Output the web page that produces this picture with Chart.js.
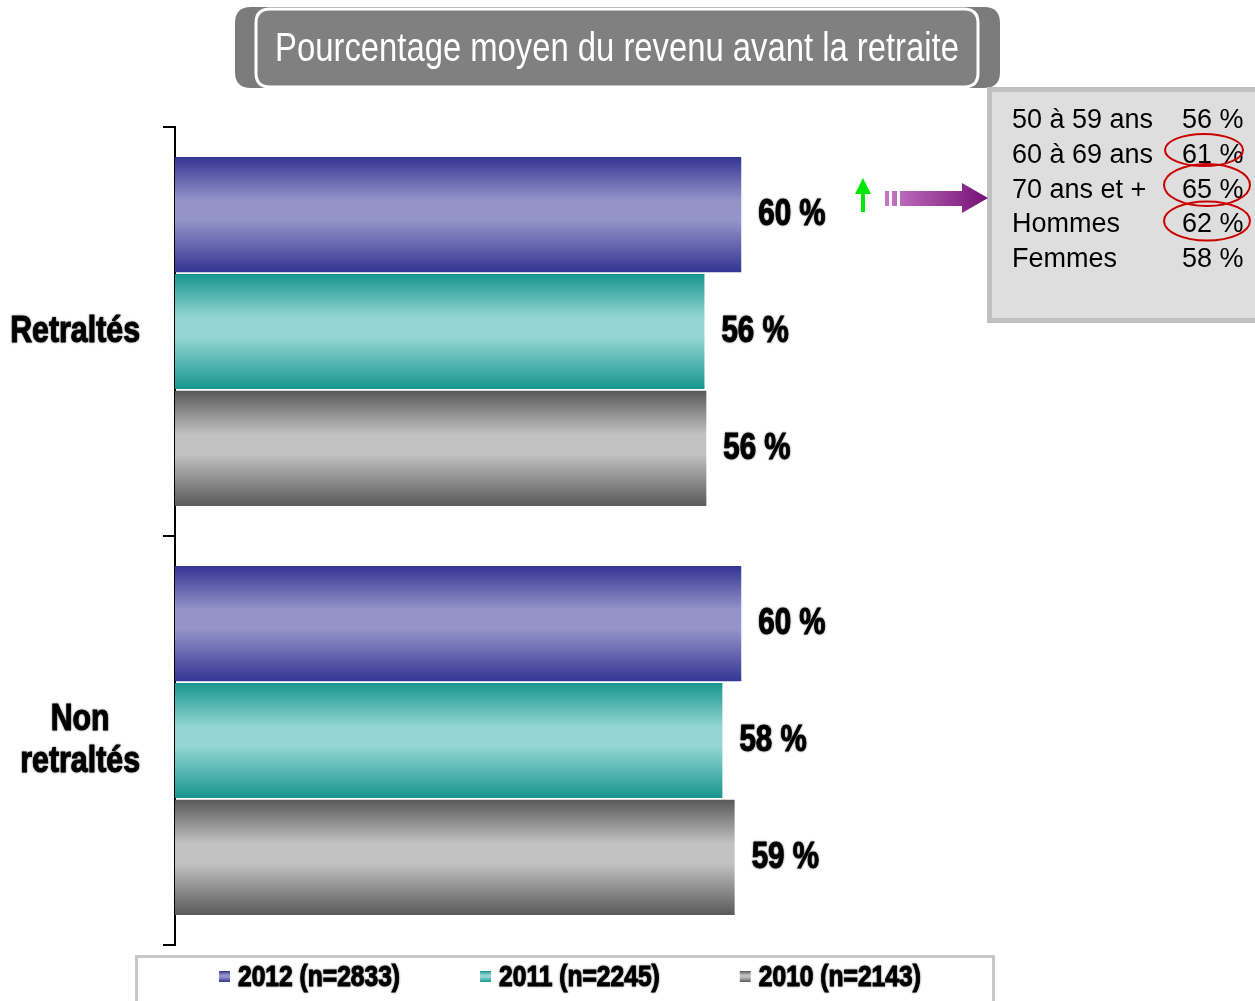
<!DOCTYPE html>
<html><head><meta charset="utf-8">
<script src="https://cdn.jsdelivr.net/npm/chart.js@4"></script>
<style>html,body{margin:0;padding:0;background:#fff;overflow:hidden}canvas{display:block}</style>
</head><body>
<canvas id="c" width="1255" height="1001"></canvas>
<script>
// ---- data ----
const categories = [['Retraltés'], ['Non', 'retraltés']];
const seriesLabels = ['2012 (n=2833)', '2011 (n=2245)', '2010 (n=2143)'];
const values2012 = [60.0, 60.0];
const values2011 = [56.1, 58.0];
const values2010 = [56.3, 59.3];
const titleText = 'Pourcentage moyen du revenu avant la retraite';
const sideLabels = ['50 à 59 ans', '60 à 69 ans', '70 ans et +', 'Hommes', 'Femmes'];
const sideValues = ['56 %', '61 %', '65 %', '62 %', '58 %'];
const sideCircled = [false, true, true, true, false];

// ---- styles ----
const SANS = '"Liberation Sans", Arial, sans-serif';
const NARROW_SCALE = 0.82;
const palette = [
  {dark: '#343494', light: '#9494c9'},
  {dark: '#17958f', light: '#93d6d3'},
  {dark: '#595959', light: '#c2c2c2'}
];

function vGrad(c, top, bot, p) {
  const g = c.createLinearGradient(0, top, 0, bot);
  g.addColorStop(0, p.dark);
  g.addColorStop(0.38, p.light);
  g.addColorStop(0.55, p.light);
  g.addColorStop(1, p.dark);
  return g;
}

// draw text with a condensed look (Arial Narrow style)
function narrow(c, text, x, y, font, align, heavy) {
  c.save();
  c.font = font;
  c.textAlign = align || 'left';
  c.translate(x, y);
  c.scale(NARROW_SCALE, 1);
  if (heavy) {
    c.shadowColor = 'rgba(0,0,0,0.5)';
    c.shadowBlur = 2;
    c.lineWidth = 1;
    c.strokeStyle = c.fillStyle;
    c.strokeText(text, 0, 0);
  }
  c.fillText(text, 0, 0);
  c.restore();
}
function narrowWidth(c, text, font) {
  c.save(); c.font = font; const w = c.measureText(text).width * NARROW_SCALE; c.restore(); return w;
}

const gradPlugin = {
  id: 'grad',
  beforeDatasetsDraw(chart) {
    const c = chart.ctx;
    chart.data.datasets.forEach((ds, i) => {
      chart.getDatasetMeta(i).data.forEach(el => {
        const top = el.y - el.height / 2, bot = el.y + el.height / 2;
        el.options = Object.assign({}, el.options, {backgroundColor: vGrad(c, top, bot, palette[i])});
      });
    });
  }
};

const labelPlugin = {
  id: 'vlabels',
  afterDatasetsDraw(chart) {
    const c = chart.ctx;
    c.save();
    c.fillStyle = '#000';
    c.textBaseline = 'middle';
    const f = 'bold 36px ' + SANS;
    chart.data.datasets.forEach((ds, i) => {
      chart.getDatasetMeta(i).data.forEach((el, j) => {
        narrow(c, Math.round(ds.data[j]) + ' %', el.x + 17, el.y + 1, f, 'left', true);
      });
    });
    c.restore();
  }
};

// category labels drawn at the y scale's own tick positions
const catLabelPlugin = {
  id: 'catlabels',
  afterDraw(chart) {
    const c = chart.ctx, s = chart.scales.y;
    const f = 'bold 37px ' + SANS;
    const rightEdge = s.right - 12 - 23;
    const lh = 42;
    c.save();
    c.fillStyle = '#000';
    c.textBaseline = 'middle';
    chart.data.labels.forEach((lab, i) => {
      const lines = Array.isArray(lab) ? lab : [lab];
      const w = Math.max(...lines.map(t => narrowWidth(c, t, f)));
      const cx = rightEdge - w / 2;
      const cy = s.getPixelForTick(i);
      lines.forEach((t, k) => {
        narrow(c, t, cx, cy + (k - (lines.length - 1) / 2) * lh, f, 'center', true);
      });
    });
    c.restore();
  }
};

function rr(c, x, y, w, h, r) {
  c.beginPath();
  c.moveTo(x + r, y);
  c.lineTo(x + w - r, y); c.quadraticCurveTo(x + w, y, x + w, y + r);
  c.lineTo(x + w, y + h - r); c.quadraticCurveTo(x + w, y + h, x + w - r, y + h);
  c.lineTo(x + r, y + h); c.quadraticCurveTo(x, y + h, x, y + h - r);
  c.lineTo(x, y + r); c.quadraticCurveTo(x, y, x + r, y);
  c.closePath();
}

const decoPlugin = {
  id: 'deco',
  afterDraw(chart) {
    const c = chart.ctx;
    c.save();
    // title box
    rr(c, 235, 7, 765, 81, 16);
    c.fillStyle = '#7b7b7b'; c.fill();
    rr(c, 256, 9, 722, 78, 14);
    c.fillStyle = '#808080'; c.fill();
    c.strokeStyle = '#ffffff'; c.lineWidth = 3; c.stroke();
    c.fillStyle = '#fff';
    c.textBaseline = 'alphabetic';
    narrow(c, titleText, 617, 61, '40px ' + SANS, 'center', false);

    // side box
    c.fillStyle = '#dedede';
    c.fillRect(990, 89, 270, 232);
    c.strokeStyle = '#c0c0c0'; c.lineWidth = 5;
    c.strokeRect(989.5, 89.5, 290, 231);
    c.fillStyle = '#000';
    c.font = '27px ' + SANS;
    c.textAlign = 'left';
    const rows = [128, 163, 198, 232, 267];
    sideLabels.forEach((t, i) => {
      c.fillText(t, 1012, rows[i]);
      c.fillText(sideValues[i], 1182, rows[i]);
    });
    const ell = [null, [1204, 150, 39, 16], [1207, 185, 43, 21], [1207, 221, 43, 19.5], null];
    c.strokeStyle = '#cc0000'; c.lineWidth = 2;
    sideCircled.forEach((flag, i) => {
      if (!flag) return;
      const e = ell[i];
      c.beginPath(); c.ellipse(e[0], e[1], e[2], e[3], 0, 0, Math.PI * 2); c.stroke();
    });

    // green arrow
    c.fillStyle = '#00e600';
    c.fillRect(861, 191, 4, 21);
    c.beginPath(); c.moveTo(855, 194); c.lineTo(871, 194); c.lineTo(863, 178); c.closePath(); c.fill();

    // purple arrow
    const pg = c.createLinearGradient(885, 0, 988, 0);
    pg.addColorStop(0, '#c678c6'); pg.addColorStop(1, '#761076');
    c.fillStyle = pg;
    c.fillRect(885, 191, 4, 15);
    c.fillRect(892, 191, 5, 15);
    c.fillRect(900, 191, 63, 15);
    c.beginPath(); c.moveTo(962, 183); c.lineTo(962, 213); c.lineTo(988, 198); c.closePath(); c.fill();

    // legend
    c.strokeStyle = '#c8c8c8'; c.lineWidth = 3;
    c.strokeRect(136.5, 956.5, 857, 60);
    const lf = 'bold 30px ' + SANS;
    c.textBaseline = 'alphabetic';
    let x = 219;
    chart.data.datasets.forEach((ds, i) => {
      c.fillStyle = vGrad(c, 971, 982, palette[i]);
      c.fillRect(x, 971, 11, 11);
      c.fillStyle = '#000';
      narrow(c, ds.label, x + 19, 986, lf, 'left', true);
      x += 19 + narrowWidth(c, ds.label, lf) + 80;
    });
    c.restore();
  }
};

new Chart(document.getElementById('c'), {
  type: 'bar',
  data: {
    labels: categories,
    datasets: [
      {label: seriesLabels[0], data: values2012, backgroundColor: palette[0].light},
      {label: seriesLabels[1], data: values2011, backgroundColor: palette[1].light},
      {label: seriesLabels[2], data: values2010, backgroundColor: palette[2].light}
    ]
  },
  options: {
    indexAxis: 'y',
    responsive: false,
    animation: false,
    events: [],
    layout: {padding: {top: 127, bottom: 56, left: 0, right: 325}},
    datasets: {bar: {categoryPercentage: 0.858, barPercentage: 0.985, borderWidth: 0}},
    plugins: {legend: {display: false}, title: {display: false}, tooltip: {enabled: false}},
    scales: {
      x: {display: false, min: 0, max: 80},
      y: {
        position: 'left',
        afterFit(s) { s.width = 175; },
        grid: {display: true, drawOnChartArea: false, drawTicks: true, tickLength: 12, color: '#000', lineWidth: 2, offset: true},
        border: {display: true, color: '#000', width: 2},
        ticks: {color: 'rgba(0,0,0,0)', padding: 23, font: {family: SANS, size: 30, weight: 'bold'}}
      }
    }
  },
  plugins: [gradPlugin, labelPlugin, catLabelPlugin, decoPlugin]
});
</script>
</body></html>
